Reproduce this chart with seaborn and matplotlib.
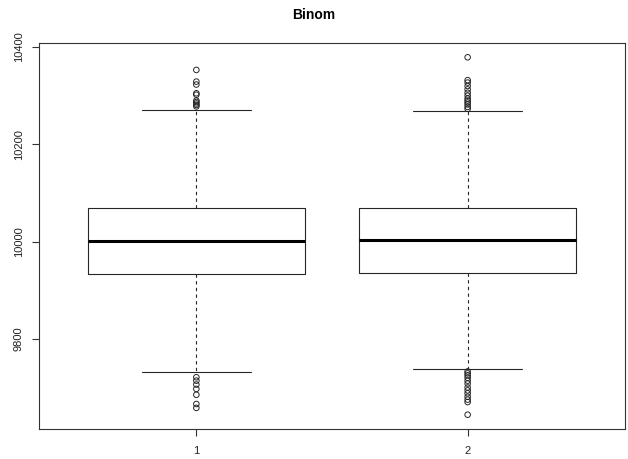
import matplotlib
matplotlib.use("Agg")
import matplotlib.pyplot as plt
import seaborn as sns
import pandas as pd

# Summary statistics of the two samples
groups = ["1", "2"]
positions = [1, 2]
whisker_low = [9731, 9738]
q1 = [9933, 9936]
median = [10002, 10004]
q3 = [10069, 10070]
whisker_high = [10271, 10269]

# Points beyond the whiskers
outliers_1 = [10353, 10329, 10323, 10305, 10302, 10290, 10287, 10284, 10281, 10278,
              9721, 9714, 9706, 9697, 9685, 9666, 9658]
outliers_2 = [10379, 10332, 10327, 10320, 10313, 10306, 10300, 10294, 10290, 10286,
              10282, 10277, 10273,
              9733, 9729, 9725, 9720, 9714, 9708, 9700, 9694, 9688, 9681, 9675, 9670, 9644]

sns.set_theme(style="white")
plt.rcParams["font.family"] = ["Liberation Sans", "DejaVu Sans"]

fig = plt.figure(figsize=(6.28, 4.59), dpi=100)
ax = fig.add_axes([39 / 628, 30 / 459, (625 - 39) / 628, (429 - 43) / 459])

stats = []
for i in range(len(groups)):
    stats.append({
        "med": median[i], "q1": q1[i], "q3": q3[i],
        "whislo": whisker_low[i], "whishi": whisker_high[i],
        "fliers": [], "label": groups[i],
    })

line_col = "#262626"
ax.bxp(stats, positions=positions, widths=0.8, capwidths=0.4, showfliers=False,
       boxprops=dict(color=line_col, linewidth=0.8),
       medianprops=dict(color="black", linewidth=2.2, solid_capstyle="butt"),
       whiskerprops=dict(color=line_col, linewidth=0.8, linestyle=(0, (3, 3))),
       capprops=dict(color=line_col, linewidth=0.8))

flier_df = pd.DataFrame({
    "pos": [positions[0]] * len(outliers_1) + [positions[1]] * len(outliers_2),
    "value": outliers_1 + outliers_2,
})
sns.scatterplot(data=flier_df, x="pos", y="value", ax=ax, marker="o",
                s=16, facecolor="none", edgecolor=line_col, linewidth=0.7,
                legend=False)

all_vals = outliers_1 + outliers_2 + whisker_low + whisker_high
lo, hi = min(all_vals), max(all_vals)
pad = 0.04 * (hi - lo)
ax.set_ylim(lo - pad, hi + pad)
ax.set_xlim(0.42, 2.58)

ax.set_xticks(positions)
ax.set_xticklabels(groups)
ax.set_yticks([9800, 10000, 10200, 10400])
ax.set_yticklabels(["9800", "10000", "10200", "10400"], rotation=90, va="center")
ax.set_xlabel("")
ax.set_ylabel("")
ax.tick_params(axis="both", direction="out", length=5, width=0.8, color="#333333",
               labelsize=8, labelcolor="#222222", left=True, bottom=True)
ax.tick_params(axis="x", pad=7)
ax.tick_params(axis="y", pad=6)
for sp in ax.spines.values():
    sp.set_visible(True)
    sp.set_color("#333333")
    sp.set_linewidth(0.8)

fig.text(0.5, 1 - 15 / 459, "Binom", ha="center", va="center",
         fontsize=10, fontweight="bold", color="black")

fig.savefig("out.png", dpi=100, facecolor="white")
